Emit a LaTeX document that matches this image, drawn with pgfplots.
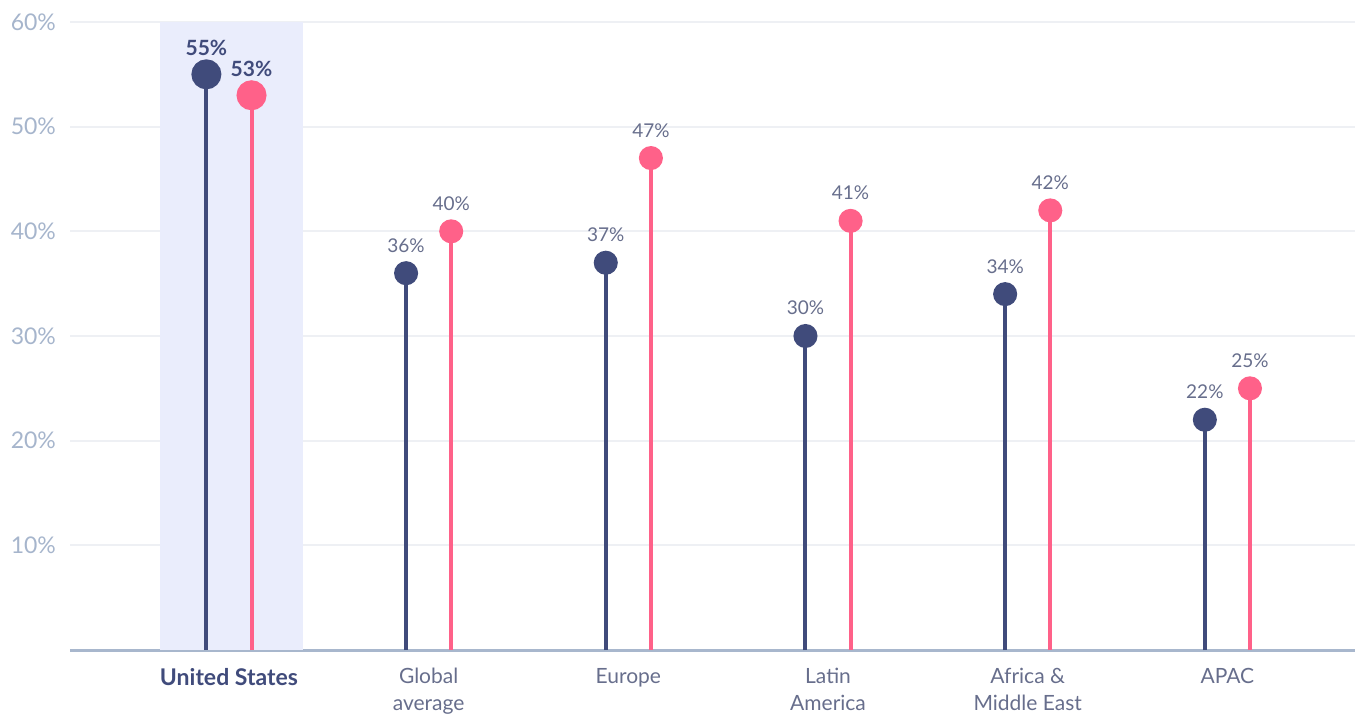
\documentclass[border=0pt]{standalone}
\usepackage{pgfplots}
\pgfplotsset{compat=1.18}
\usepackage{fontspec}
\setmainfont{Lato}

\definecolor{navy}{HTML}{404B7B}
\definecolor{pink}{HTML}{FF6189}
\definecolor{band}{HTML}{EAEDFC}
\definecolor{ticklab}{HTML}{A6B5CC}
\definecolor{axisline}{HTML}{A8B7CD}
\definecolor{gridc}{HTML}{EEF0F4}
\definecolor{vallab}{HTML}{676E8C}

\begin{document}
\begin{tikzpicture}
\useasboundingbox (0,0) rectangle (679.5pt,356.5pt);
\begin{axis}[
    at={(35pt,31.5pt)}, anchor=south west,
    scale only axis,
    width=642.5pt, height=314pt,
    xmin=-0.796, xmax=5.639,
    ymin=0, ymax=60,
    clip=false,
    axis x line*=bottom,
    axis y line*=left,
    y axis line style={draw=none},
    x axis line style={draw=axisline, line width=1.5pt},
    major tick length=0pt,
    xtick={0,1,2,3,4,5},
    xticklabels={{\textcolor{navy}{\fontsize{11.5}{13.5}\bfseries\selectfont United States}},{Global\\average},{Europe},{Latin\\America},{Africa \&\\Middle East},{APAC}},
    xticklabel style={align=center, text=vallab, font=\fontsize{10.5}{13.5}\selectfont, anchor=north, yshift=-5.5pt},
    ytick={10,20,30,40,50,60},
    yticklabel={\pgfmathprintnumber{\tick}\%},
    yticklabel style={text=ticklab, font=\fontsize{11.5}{13}\selectfont, xshift=-3.5pt},
    /pgf/number format/assume math mode=true,
    ymajorgrids=true,
    grid style={draw=gridc, line width=1pt},
    nodes near coords={\pgfmathprintnumber{\pgfplotspointmeta}\%},
    every node near coord/.append style={anchor=base, yshift=10.5pt, font=\fontsize{9.5}{11}\selectfont, text=vallab},
]
\fill[band] (axis cs:-0.346,0) rectangle (axis cs:0.371,60);

% United States (highlighted)
\addplot[ycomb, navy, line width=2pt, mark=*, mark size=6.5pt,
    every node near coord/.append style={font=\fontsize{10.5}{12}\bfseries\selectfont, text=navy, yshift=-1pt}]
    coordinates {(-0.113,55)};
\addplot[ycomb, pink, line width=2pt, mark=*, mark size=6.5pt,
    every node near coord/.append style={font=\fontsize{10.5}{12}\bfseries\selectfont, text=navy, yshift=-1pt}]
    coordinates {(0.113,53)};

% other regions
\addplot[ycomb, navy, line width=2pt, mark=*, mark size=5pt]
    coordinates {(0.887,36) (1.887,37) (2.887,30) (3.887,34) (4.887,22)};
\addplot[ycomb, pink, line width=2pt, mark=*, mark size=5pt]
    coordinates {(1.113,40) (2.113,47) (3.113,41) (4.113,42) (5.113,25)};
\end{axis}
\end{tikzpicture}
\end{document}
